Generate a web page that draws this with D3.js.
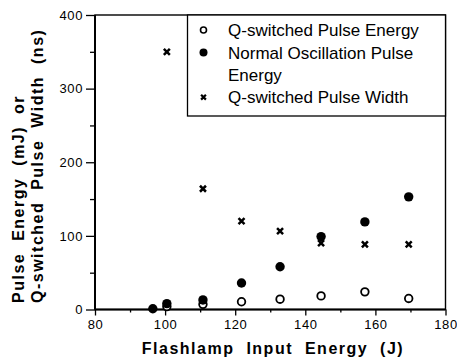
<!DOCTYPE html>
<html>
<head>
<meta charset="utf-8">
<script src="https://cdn.jsdelivr.net/npm/d3@7"></script>
<style>
  body { margin: 0; background: #fff; }
  svg { display: block; font-family: "Liberation Sans", Arial, Helvetica, sans-serif; }
  .axis text { font-size: 13px; letter-spacing: 0.6px; fill: #000; }
  .axis line { stroke: #000; stroke-width: 1.3; }
  .title { font-weight: bold; font-size: 16px; letter-spacing: 1.5px; word-spacing: 6px; }
</style>
</head>
<body>
<div id="chart"></div>
<script>
// flashlamp input energy (J)
const inputEnergy = [96.5, 100.5, 110.8, 121.8, 132.8, 144.5, 157, 169.5];
// normal oscillation pulse energy (mJ)
const normalEnergy = [1, 8, 13, 36, 58, 99, 119, 153];
// Q-switched pulse energy (mJ)
const qsEnergy = [null, 4, 7, 10.5, 14, 18.5, 24, 15];
// Q-switched pulse width (ns)
const qsWidth = [null, 350, 164, 120, 106.5, 90, 88.5, 88.5];

const xMajor = [80, 100, 120, 140, 160, 180];
const xMinor = [90, 110, 130, 150, 170];
const yMajor = [0, 100, 200, 300, 400];
const yMinor = [50, 150, 250, 350];

const legendItems = [
  {type: "open", lines: ["Q-switched Pulse Energy"]},
  {type: "filled", lines: ["Normal Oscillation Pulse", "Energy"]},
  {type: "cross", lines: ["Q-switched Pulse Width"]}
];

const W = 457, H = 359;
const margin = {top: 15, right: 11.5, bottom: 49.5, left: 95};
const width = W - margin.left - margin.right;
const height = H - margin.top - margin.bottom;

const svg = d3.select("#chart").append("svg")
  .attr("width", W)
  .attr("height", H);

const g = svg.append("g")
  .attr("transform", "translate(" + margin.left + "," + margin.top + ")");

const x = d3.scaleLinear().domain([80, 180]).range([0, width]);
const y = d3.scaleLinear().domain([0, 400]).range([height, 0]);

// axes
g.append("g")
  .attr("class", "axis")
  .attr("transform", "translate(0," + height + ")")
  .call(d3.axisBottom(x).tickValues(xMajor).tickSize(6).tickSizeOuter(0).tickPadding(4))
  .call(a => a.select(".domain").remove());

g.append("g")
  .attr("class", "axis")
  .attr("transform", "translate(0," + height + ")")
  .call(d3.axisBottom(x).tickValues(xMinor).tickSize(3).tickSizeOuter(0).tickFormat(""))
  .call(a => a.select(".domain").remove());

g.append("g")
  .attr("class", "axis")
  .call(d3.axisLeft(y).tickValues(yMajor).tickSize(9).tickSizeOuter(0).tickPadding(3))
  .call(a => a.select(".domain").remove());

g.append("g")
  .attr("class", "axis")
  .call(d3.axisLeft(y).tickValues(yMinor).tickSize(5).tickSizeOuter(0).tickFormat(""))
  .call(a => a.select(".domain").remove());

// frame
g.append("rect")
  .attr("width", width)
  .attr("height", height)
  .attr("fill", "none")
  .attr("stroke", "#000")
  .attr("stroke-width", 1.4);
g.append("line")
  .attr("x1", 0).attr("x2", 0).attr("y1", 0).attr("y2", height)
  .attr("stroke", "#000").attr("stroke-width", 2);
g.append("line")
  .attr("x1", 0).attr("x2", width).attr("y1", height).attr("y2", height)
  .attr("stroke", "#000").attr("stroke-width", 2);

// points
const pts = (vals) => inputEnergy.map((e, i) => ({e: e, v: vals[i]})).filter(d => d.v != null);

g.selectAll(".open").data(pts(qsEnergy)).enter().append("circle")
  .attr("cx", d => x(d.e))
  .attr("cy", d => y(d.v))
  .attr("r", 3.8)
  .attr("fill", "#fff")
  .attr("stroke", "#000")
  .attr("stroke-width", 1.8);

g.selectAll(".filled").data(pts(normalEnergy)).enter().append("circle")
  .attr("cx", d => x(d.e))
  .attr("cy", d => y(d.v))
  .attr("r", 4.7)
  .attr("fill", "#000");

const crossPath = (s) => "M" + (-s) + "," + (-s) + "L" + s + "," + s + "M" + (-s) + "," + s + "L" + s + "," + (-s);

g.selectAll(".cross").data(pts(qsWidth)).enter().append("path")
  .attr("transform", d => "translate(" + x(d.e) + "," + y(d.v) + ")")
  .attr("d", crossPath(3))
  .attr("stroke", "#000")
  .attr("stroke-width", 2.5);

// legend
const lg = svg.append("g");
lg.append("rect")
  .attr("x", 187.5).attr("y", 15)
  .attr("width", W - margin.right - 187.5).attr("height", 101)
  .attr("fill", "#fff")
  .attr("stroke", "#000")
  .attr("stroke-width", 1.3);

let row = 0;
legendItems.forEach(item => {
  const cy = 30 + row * 22.4;
  if (item.type === "open") {
    lg.append("circle").attr("cx", 203.5).attr("cy", cy).attr("r", 3)
      .attr("fill", "#fff").attr("stroke", "#000").attr("stroke-width", 1.6);
  } else if (item.type === "filled") {
    lg.append("circle").attr("cx", 203.5).attr("cy", cy).attr("r", 4).attr("fill", "#000");
  } else {
    lg.append("path").attr("transform", "translate(203.5," + cy + ")")
      .attr("d", crossPath(2.4)).attr("stroke", "#000").attr("stroke-width", 2.2);
  }
  item.lines.forEach((t, k) => {
    lg.append("text")
      .attr("x", 228)
      .attr("y", 30 + (row + k) * 22.4)
      .attr("dy", "0.36em")
      .style("font-size", "17px")
      .text(t);
  });
  row += item.lines.length;
});

// axis titles
svg.append("text")
  .attr("class", "title")
  .attr("x", 273)
  .attr("y", 354)
  .attr("text-anchor", "middle")
  .text("Flashlamp Input Energy (J)");

svg.append("text")
  .attr("class", "title")
  .attr("transform", "translate(24,303) rotate(-90)")
  .text("Pulse Energy (mJ) or");

svg.append("text")
  .attr("class", "title")
  .attr("transform", "translate(43,303) rotate(-90)")
  .text("Q-switched Pulse Width (ns)");
</script>
</body>
</html>
